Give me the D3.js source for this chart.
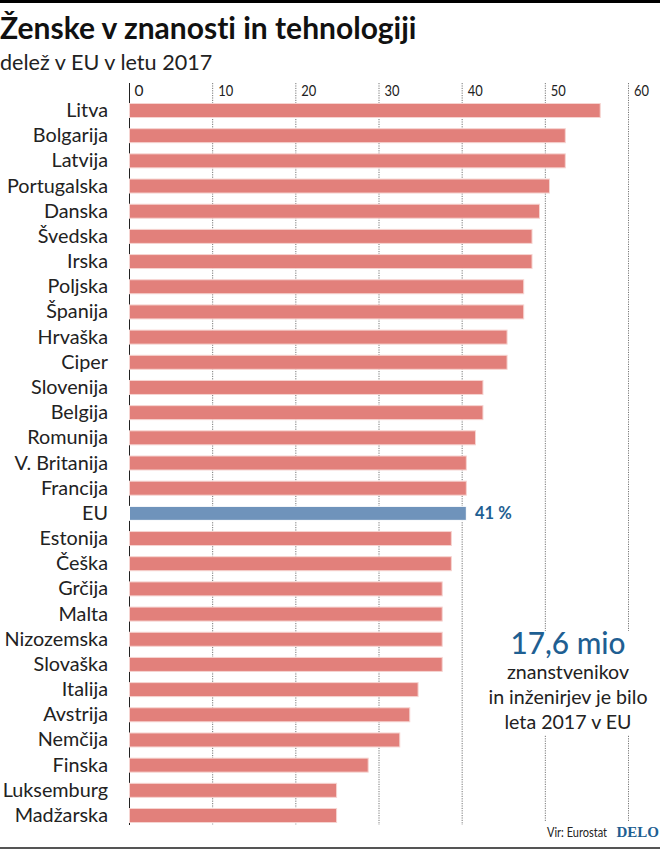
<!DOCTYPE html>
<html><head><meta charset="utf-8">
<script src="https://cdnjs.cloudflare.com/ajax/libs/d3/7.8.5/d3.min.js"></script>
<style>html,body{margin:0;padding:0;background:#fff}svg{display:block}text{font-family:Lato,"Open Sans",sans-serif;font-variant-ligatures:none}</style>
</head><body><script>
const categories=["Litva","Bolgarija","Latvija","Portugalska","Danska","Švedska","Irska","Poljska","Španija","Hrvaška","Ciper","Slovenija","Belgija","Romunija","V. Britanija","Francija","EU","Estonija","Češka","Grčija","Malta","Nizozemska","Slovaška","Italija","Avstrija","Nemčija","Finska","Luksemburg","Madžarska"];
const values=[56.6,52.4,52.4,50.5,49.3,48.4,48.4,47.4,47.4,45.4,45.4,42.5,42.5,41.6,40.5,40.5,40.5,38.7,38.7,37.6,37.6,37.6,37.6,34.7,33.7,32.5,28.7,24.9,24.9];
const ticks=[0,10,20,30,40,50,60];
const highlight="EU";
const highlightLabel="41 %";
const title="Ženske v znanosti in tehnologiji";
const subtitle="delež v EU v letu 2017";
const calloutBig="17,6 mio";
const calloutLines=["znanstvenikov","in inženirjev je bilo","leta 2017 v EU"];
const source="Vir: Eurostat";
const brand="DELO";

const W=660,H=849;
const svg=d3.select("body").append("svg").attr("width",W).attr("height",H);
const x=d3.scaleLinear().domain([0,60]).range([129.5,628.5]);
const y=d3.scalePoint().domain(categories).range([110.5,815.5]);
const barH=14;

svg.append("rect").attr("x",0).attr("y",0).attr("width",W).attr("height",3).attr("fill","#000");
svg.append("rect").attr("x",0).attr("y",847).attr("width",W).attr("height",2).attr("fill","#555");
svg.append("text").attr("x",0).attr("y",39).attr("font-size",30).attr("font-weight",700).attr("fill","#111").text(title);
svg.append("text").attr("x",0).attr("y",70).attr("font-size",21.6).attr("fill","#222").text(subtitle);

svg.append("g").selectAll("line").data(ticks.slice(1)).join("line")
 .attr("x1",d=>x(d)).attr("x2",d=>x(d)).attr("y1",83).attr("y2",d=>d>=50?821:825)
 .attr("stroke","#777").attr("stroke-width",1).attr("stroke-dasharray","1.2 1.2");
svg.append("rect").attr("x",500).attr("y",631).attr("width",150).attr("height",104).attr("fill","#fff");
svg.append("line").attr("x1",x(0)).attr("x2",x(0)).attr("y1",83).attr("y2",825).attr("stroke","#222").attr("stroke-width",1);

svg.append("g").selectAll("text").data(ticks).join("text")
 .attr("x",d=>x(d)+(d?5.5:5)).attr("y",96).attr("font-size",15.5).attr("fill","#222")
 .attr("textLength",d=>d?15:null).attr("lengthAdjust","spacingAndGlyphs").text(d=>d);

svg.append("g").selectAll("rect").data(categories).join("rect")
 .attr("x",x(0)).attr("y",d=>y(d)-barH/2)
 .attr("width",(d,i)=>x(values[i])-x(0)).attr("height",barH)
 .attr("fill",d=>d===highlight?"#6f93bb":"#e2807b")
 .attr("stroke",d=>d===highlight?"#fff":"#f6d4d1").attr("stroke-width",1);

svg.append("g").selectAll("text").data(categories).join("text")
 .attr("x",108).attr("y",d=>y(d)+6.5).attr("text-anchor","end").attr("font-size",19.8).attr("fill","#222").text(d=>d);

svg.append("text").attr("x",475).attr("y",y(highlight)+6).attr("font-size",16.5).attr("font-weight",700).attr("fill","#1f5f92").text(highlightLabel);

svg.append("text").attr("x",568).attr("y",654).attr("text-anchor","middle").attr("font-size",29.8).attr("font-weight",500).attr("fill","#1f5f92").text(calloutBig);
svg.append("g").selectAll("text").data(calloutLines).join("text")
 .attr("x",568).attr("y",(d,i)=>678.7+i*25).attr("text-anchor","middle").attr("font-size",19.6).attr("fill","#222").text(d=>d);

svg.append("text").attr("x",547).attr("y",837).attr("font-size",13).attr("fill","#222")
 .attr("textLength",60).attr("lengthAdjust","spacingAndGlyphs").text(source);
svg.append("text").attr("x",659).attr("y",837).attr("text-anchor","end").attr("font-size",15).attr("font-weight",700)
 .style("font-family","'Liberation Serif',serif").attr("fill","#1f5f92").text(brand);
</script></body></html>
